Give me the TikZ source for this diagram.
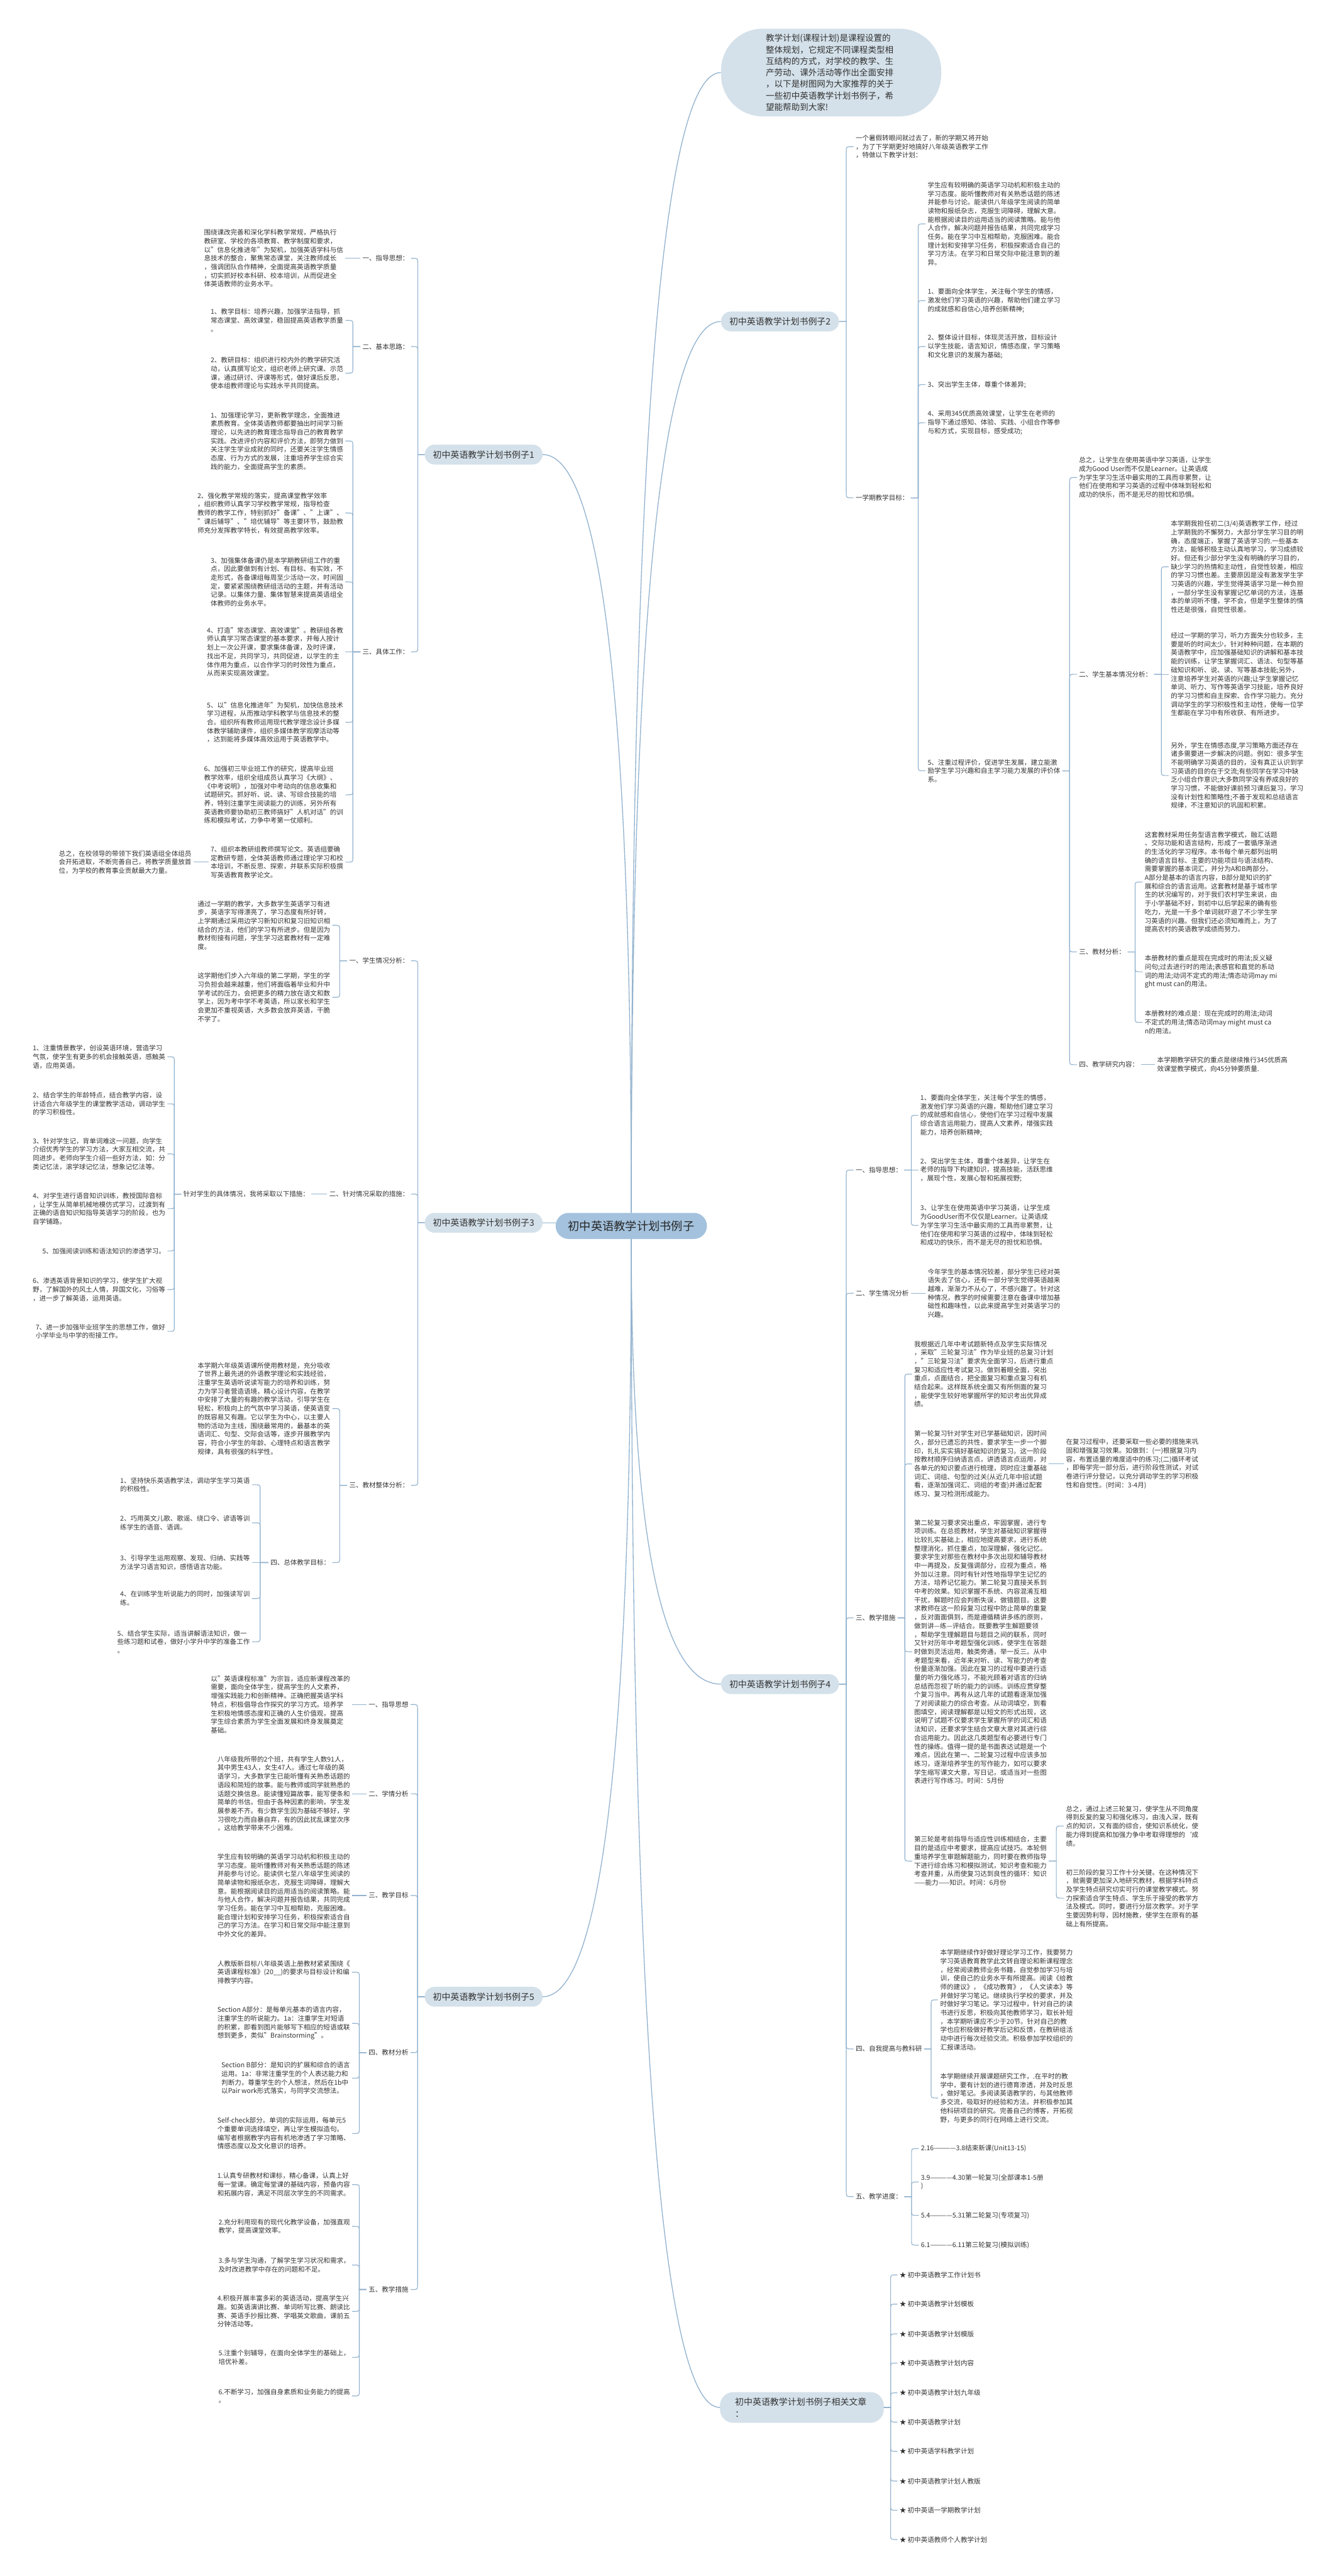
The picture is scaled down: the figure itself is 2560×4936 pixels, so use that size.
\documentclass[tikz,border=0pt]{standalone}
\usepackage{fontspec}
\setmainfont{Noto Sans CJK SC}
\usetikzlibrary{calc}

\definecolor{linecol}{HTML}{93B3CF}
\definecolor{pillcol}{HTML}{D4E1EA}
\definecolor{rootcol}{HTML}{A4C2DD}
\definecolor{txtcol}{HTML}{333333}

\newcommand\txtfont{\fontsize{12.7pt}{16.5pt}\selectfont}
\newcommand\pillfont{\fontsize{16.8pt}{22pt}\selectfont}
\newcommand\introfont{\fontsize{16.3pt}{22pt}\selectfont}
\newcommand\rootfont{\fontsize{22pt}{28pt}\selectfont}

\tikzset{
  txt/.style={font=\txtfont, align=left, inner sep=4pt, text=txtcol},
  rtxt/.style={txt, anchor=west},
  ltxt/.style={txt, anchor=east},
  pill/.style={fill=pillcol, rounded corners=19pt, minimum width=226pt,
    minimum height=38pt, font=\pillfont, inner sep=2pt, text=txtcol},
  link/.style={draw=linecol, line width=1.4pt},
  trunk/.style={draw=linecol, line width=1.6pt},
}

% bracket from a parent to its children (children on the right)
\newcommand\linkR[2]{\foreach \kid in {#2}{%
  \draw[link] let \p1=(#1.east), \p2=(\kid.west), \n1={(\x1+\x2)/2},
    \n2={\y2-\y1}, \n3={min(10,abs(\n2))*sign(\n2)} in
    (\p1) -- (\n1,\y1) -- (\n1,\y2-\n3) .. controls (\n1,\y2) .. ({\n1+abs(\n3)},\y2) -- (\p2);}}
% bracket from a parent to its children (children on the left)
\newcommand\linkL[2]{\foreach \kid in {#2}{%
  \draw[link] let \p1=(#1.west), \p2=(\kid.east), \n1={(\x1+\x2)/2},
    \n2={\y2-\y1}, \n3={min(10,abs(\n2))*sign(\n2)} in
    (\p1) -- (\n1,\y1) -- (\n1,\y2-\n3) .. controls (\n1,\y2) .. ({\n1-abs(\n3)},\y2) -- (\p2);}}
% curved trunk from the centre to a main branch
\newcommand\trunk[2]{%
  \draw[trunk] let \p1=(#1), \p2=(#2) in
    (\p1) .. controls ($(\p1)!0.667!(\x1,\y2)$) and ($(\p2)!0.667!(\x1,\y2)$) .. (\p2);}

\begin{document}
\begin{tikzpicture}[x=1pt, y=-1pt]

  \fill[white] (0,0) rectangle (2560,4936);
  \useasboundingbox (0,0) rectangle (2560,4936);

  % centre and intro
  \node[pill, fill=rootcol, minimum width=290pt, minimum height=50pt, rounded corners=25pt, font=\rootfont, text=black!85] (root) at (1210,2349) {初中英语教学计划书例子};
  \node[pill, minimum width=422pt, minimum height=168pt, rounded corners=80pt, font=\introfont, align=left, text width=250pt] (intro) at (1593,139)
    {教学计划(课程计划)是课程设置的\\整体规划，它规定不同课程类型相\\互结构的方式，对学校的教学、生\\产劳动、课外活动等作出全面安排\\，以下是树图网为大家推荐的关于\\一些初中英语教学计划书例子，希\\望能帮助到大家!};

  % main branches
  \node[pill] (ex1) at (927,871) {初中英语教学计划书例子1};
  \node[pill] (ex2) at (1495,616) {初中英语教学计划书例子2};
  \node[pill] (ex3) at (927,2343) {初中英语教学计划书例子3};
  \node[pill] (ex4) at (1495,3227) {初中英语教学计划书例子4};
  \node[pill] (ex5) at (927,3826) {初中英语教学计划书例子5};
  \node[pill, minimum width=314pt, minimum height=59pt, rounded corners=26pt, align=left, text width=256pt] (rel) at (1537,4613) {初中英语教学计划书例子相关文章\\：};

  \trunk{root.north}{intro.west}
  \trunk{root.north}{ex2.west}
  \trunk{root.north}{ex1.east}
  \trunk{root.south}{ex4.west}
  \trunk{root.south}{rel.west}
  \trunk{root.south}{ex5.east}
  \draw[trunk] (ex3.east) -- (ex3.east -| root.west);

  % Example 2
  \node[rtxt] (ex2-0) at (1636,281) {一个暑假转眼间就过去了，新的学期又将开始\\，为了下学期更好地搞好八年级英语教学工作\\，特做以下教学计划：};
  \node[rtxt] (ex2-1) at (1636,954) {一学期教学目标：};
  \node[rtxt] (ex2-1a) at (1774,429) {学生应有较明确的英语学习动机和积极主动的\\学习态度。能听懂教师对有关熟悉话题的陈述\\并能参与讨论。能读供八年级学生阅读的简单\\读物和报纸杂志，克服生词障碍，理解大意。\\能根据阅读目的运用适当的阅读策略。能与他\\人合作，解决问题并报告结果，共同完成学习\\任务。能在学习中互相帮助，克服困难。能合\\理计划和安排学习任务，积极探索适合自己的\\学习方法。在学习和日常交际中能注意到的差\\异。};
  \node[rtxt] (ex2-1b) at (1774,576) {1、要面向全体学生，关注每个学生的情感，\\激发他们学习英语的兴趣，帮助他们建立学习\\的成就感和自信心,培养创新精神;};
  \node[rtxt] (ex2-1c) at (1774,664) {2、整体设计目标，体现灵活开放，目标设计\\以学生技能，语言知识，情感态度，学习策略\\和文化意识的发展为基础;};
  \node[rtxt] (ex2-1d) at (1774,737) {3、突出学生主体，尊重个体差异;};
  \node[rtxt] (ex2-1e) at (1774,810) {4、采用345优质高效课堂，让学生在老师的\\指导下通过感知、体验、实践、小组合作等参\\与和方式，实现目标，感受成功;};
  \node[rtxt] (ex2-1f) at (1774,1477) {5、注重过程评价，促进学生发展，建立能激\\励学生学习兴趣和自主学习能力发展的评价体\\系。};
  \node[rtxt] (ex2-f1) at (2064,915) {总之，让学生在使用英语中学习英语，让学生\\成为Good User而不仅是Learner。让英语成\\为学生学习生活中最实用的工具而非累赘，让\\他们在使用和学习英语的过程中体味到轻松和\\成功的快乐，而不是无尽的担忧和恐惧。};
  \node[rtxt] (ex2-f2) at (2064,1292) {二、学生基本情况分析：};
  \node[rtxt] (ex2-f2a) at (2240,1086) {本学期我担任初二(3/4)英语教学工作，经过\\上学期我的不懈努力，大部分学生学习目的明\\确，态度端正，掌握了英语学习的.一些基本\\方法，能够积极主动认真地学习，学习成绩较\\好。但还有少部分学生没有明确的学习目的，\\缺少学习的热情和主动性，自觉性较差，相应\\的学习习惯也差。主要原因是没有激发学生学\\习英语的兴趣，学生觉得英语学习是一种负担\\，一部分学生没有掌握记忆单词的方法，连基\\本的单词听不懂，学不会，但是学生整体的惰\\性还是很强，自觉性很差。};
  \node[rtxt] (ex2-f2b) at (2240,1292) {经过一学期的学习，听力方面失分也较多，主\\要是听的时间太少。针对种种问题，在本期的\\英语教学中，应加强基础知识的讲解和基本技\\能的训练，让学生掌握词汇、语法、句型等基\\础知识和听、说、读、写等基本技能;另外，\\注意培养学生对英语的兴趣;让学生掌握记忆\\单词、听力、写作等英语学习技能，培养良好\\的学习习惯和自主探索、合作学习能力。充分\\调动学生的学习积极性和主动性，使每一位学\\生都能在学习中有所收获、有所进步。};
  \node[rtxt] (ex2-f2c) at (2240,1486) {另外，学生在情感态度,学习策略方面还存在\\诸多需要进一步解决的问题。例如：很多学生\\不能明确学习英语的目的，没有真正认识到学\\习英语的目的在于交流;有些同学在学习中缺\\乏小组合作意识;大多数同学没有养成良好的\\学习习惯，不能做好课前预习课后复习，学习\\没有计划性和策略性;不善于发现和总结语言\\规律，不注意知识的巩固和积累。};
  \node[rtxt] (ex2-f3) at (2064,1824) {三、教材分析：};
  \node[rtxt] (ex2-f3a) at (2190,1690) {这套教材采用任务型语言教学模式，融汇话题\\、交际功能和语言结构，形成了一套循序渐进\\的生活化的学习程序。本书每个单元都列出明\\确的语言目标、主要的功能项目与语法结构、\\需要掌握的基本词汇，并分为A和B两部分。\\A部分是基本的语言内容，B部分是知识的扩\\展和综合的语言运用。这套教材是基于城市学\\生的状况编写的，对于我们农村学生来说，由\\于小学基础不好，到初中以后学起来的确有些\\吃力，光是一千多个单词就吓退了不少学生学\\习英语的兴趣。但我们还必须知难而上，为了\\提高农村的英语教学成绩而努力。};
  \node[rtxt] (ex2-f3b) at (2190,1862) {本册教材的重点是现在完成时的用法;反义疑\\问句;过去进行时的用法;表感官和直觉的系动\\词的用法;动词不定式的用法;情态动词may mi\\ght must can的用法。};
  \node[rtxt] (ex2-f3c) at (2190,1959) {本册教材的难点是：现在完成时的用法;动词\\不定式的用法;情态动词may might must ca\\n的用法。};
  \node[rtxt] (ex2-f4) at (2064,2040) {四、教学研究内容：};
  \node[rtxt] (ex2-f4a) at (2214,2040) {本学期教学研究的重点是继续推行345优质高\\效课堂教学模式，向45分钟要质量.};

  \linkR{ex2}{ex2-0,ex2-1}
  \linkR{ex2-1}{ex2-1a,ex2-1b,ex2-1c,ex2-1d,ex2-1e,ex2-1f}
  \linkR{ex2-1f}{ex2-f1,ex2-f2,ex2-f3,ex2-f4}
  \linkR{ex2-f2}{ex2-f2a,ex2-f2b,ex2-f2c}
  \linkR{ex2-f3}{ex2-f3a,ex2-f3b,ex2-f3c}
  \linkR{ex2-f4}{ex2-f4a}

  % Example 4
  \node[rtxt] (ex4-1) at (1636,2242) {一、指导思想：};
  \node[rtxt] (ex4-1a) at (1760,2137) {1、要面向全体学生，关注每个学生的情感，\\激发他们学习英语的兴趣，帮助他们建立学习\\的成就感和自信心，使他们在学习过程中发展\\综合语言运用能力，提高人文素养，增强实践\\能力，培养创新精神;};
  \node[rtxt] (ex4-1b) at (1760,2242) {2、突出学生主体，尊重个体差异，让学生在\\老师的指导下构建知识，提高技能，活跃思维\\，展现个性，发展心智和拓展视野;};
  \node[rtxt] (ex4-1c) at (1760,2348) {3、让学生在使用英语中学习英语，让学生成\\为GoodUser而不仅仅是Learner。让英语成\\为学生学习生活中最实用的工具而非累赘，让\\他们在使用和学习英语的过程中，体味到轻松\\和成功的快乐，而不是无尽的担忧和恐惧。};
  \node[rtxt] (ex4-2) at (1636,2478) {二、学生情况分析};
  \node[rtxt] (ex4-2a) at (1774,2478) {今年学生的基本情况较差，部分学生已经对英\\语失去了信心，还有一部分学生觉得英语越来\\越难，渐渐力不从心了，不感兴趣了。针对这\\种情况，教学的时候需要注意在备课中增加基\\础性和趣味性，以此来提高学生对英语学习的\\兴趣。};
  \node[rtxt] (ex4-3) at (1636,3100) {三、教学措施};
  \node[rtxt] (ex4-3a) at (1748,2633) {我根据近几年中考试题新特点及学生实际情况\\，采取"三轮复习法"作为毕业班的总复习计划\\，"三轮复习法"要求先全面学习，后进行重点\\复习和适应性考试复习。做到着眼全面，突出\\重点，点面结合，把全面复习和重点复习有机\\结合起来。这样既系统全面又有所侧面的复习\\，能使学生较好地掌握所学的知识考出优异成\\绩。};
  \node[rtxt] (ex4-3b) at (1748,2805) {第一轮复习针对学生对已学基础知识，因时间\\久，部分已遗忘的共性，要求学生一步一个脚\\印，扎扎实实搞好基础知识的复习。这一阶段\\按教材顺序归纳语言点，讲透语言点运用，对\\各单元的知识要点进行梳理，同时应注重基础\\词汇、词组、句型的过关(从近几年中招试题\\看，逐渐加强词汇、词组的考查)并通过配套\\练习、复习检测形成能力。};
  \node[rtxt] (ex4-3b1) at (2039,2805) {在复习过程中，还要采取一些必要的措施来巩\\固和增强复习效果。如做到：(一)根据复习内\\容，布置适量的难度适中的练习;(二)循环考试\\，即每学完一部分后，进行阶段性测试，对试\\卷进行评分登记，以充分调动学生的学习积极\\性和自觉性。(时间：3-4月)};
  \node[rtxt] (ex4-3c) at (1748,3165) {第二轮复习要求突出重点，牢固掌握，进行专\\项训练。在总揽教材，学生对基础知识掌握得\\比较扎实基础上，相应地提高要求，进行系统\\整理消化，抓住重点，加深理解，强化记忆。\\要求学生对那些在教材中多次出现和辅导教材\\中一再提及，反复强调部分，应视为重点，格\\外加以注意。同时有针对性地指导学生记忆的\\方法，培养记忆能力。第二轮复习直接关系到\\中考的效果。知识掌握不系统、内容混淆互相\\干扰，解题时应会判断失误，做错题目。这要\\求教师在这一阶段复习过程中防止简单的重复\\，反对面面俱到，而是遵循精讲多练的原则，\\做到讲—练—评结合。既要教学生解题要领\\，帮助学生理解题目与题目之间的联系，同时\\又针对历年中考题型强化训练，使学生在答题\\时做到灵活运用，触类旁通，举一反三。从中\\考题型来看，近年来对听、读、写能力的考查\\份量逐渐加强。因此在复习的过程中要进行适\\量的听力强化练习，不能光顾着对语言的归纳\\总结而忽视了听的能力的训练。训练应贯穿整\\个复习当中。再有从这几年的试题看逐渐加强\\了对阅读能力的综合考查。从动词填空，到看\\图填空，阅读理解都是以短文的形式出现，这\\说明了试题不仅要求学生掌握所学的词汇和语\\法知识，还要求学生结合文章大意对其进行综\\合运用能力。因此这几类题型有必要进行专门\\性的操练。值得一提的是书面表达试题是一个\\难点，因此在第一、二轮复习过程中应该多加\\练习，逐渐培养学生的写作能力，如可以要求\\学生缩写课文大意，写日记，或适当对一些图\\表进行写作练习。时间：5月份};
  \node[rtxt] (ex4-3d) at (1748,3566) {第三轮是考前指导与适应性训练相结合，主要\\目的是适应中考要求，提高应试技巧。本轮侧\\重培养学生审题解题能力，同时要在教师指导\\下进行综合练习和模拟测试，知识考查和能力\\考查并重，从而使复习达到良性的循环：知识\\——能力——知识。时间：6月份};
  \node[rtxt] (ex4-3d1) at (2039,3499) {总之，通过上述三轮复习，使学生从不同角度\\得到反复的复习和强化练习，由浅入深，既有\\点的知识，又有面的综合，使知识系统化，使\\能力得到提高和加强力争中考取得理想的`成\\绩。};
  \node[rtxt] (ex4-3d2) at (2039,3637) {初三阶段的复习工作十分关键。在这种情况下\\，就需要更加深入地研究教材，根据学科特点\\及学生特点研究切实可行的课堂教学模式。努\\力探索适合学生特点、学生乐于接受的教学方\\法及模式。同时，要进行分层次教学。对于学\\生要因势利导，因材施教，使学生在原有的基\\础上有所提高。};
  \node[rtxt] (ex4-4) at (1636,3926) {四、自我提高与教科研};
  \node[rtxt] (ex4-4a) at (1798,3832) {本学期继续作好做好理论学习工作，我要努力\\学习英语教育教学此文转自理论和新课程理念\\，经常阅读教师业务书籍，自觉参加学习与培\\训，使自己的业务水平有所提高。阅读《给教\\师的建议》，《成功教育》，《人文读本》等\\并做好学习笔记。继续执行学校的要求，并及\\时做好学习笔记。学习过程中，针对自己的读\\书进行反思，积极向其他教师学习，取长补短\\，本学期听课应不少于20节。针对自己的教\\学也应积极做好教学后记和反馈，在教研组活\\动中进行每次经验交流。积极参加学校组织的\\汇报课活动。};
  \node[rtxt] (ex4-4b) at (1798,4020) {本学期继续开展课题研究工作，.在平时的教\\学中，要有计划的进行德育渗透，并及时反思\\，做好笔记。多阅读英语教学的，与其他教师\\多交流，吸取好的经验和方法。并积极参加其\\他科研项目的研究。完善自己的博客，开拓视\\野，与更多的同行在网络上进行交流。};
  \node[rtxt] (ex4-5) at (1636,4209) {五、教学进度：};
  \node[rtxt] (ex4-5a) at (1761,4117) {2.16————3.8结束新课(Unit13-15)};
  \node[rtxt] (ex4-5b) at (1761,4181) {3.9————4.30第一轮复习(全部课本1-5册\\)};
  \node[rtxt] (ex4-5c) at (1761,4245) {5.4————5.31第二轮复习(专项复习)};
  \node[rtxt] (ex4-5d) at (1761,4302) {6.1————6.11第三轮复习(模拟训练)};

  \linkR{ex4}{ex4-1,ex4-2,ex4-3,ex4-4,ex4-5}
  \linkR{ex4-1}{ex4-1a,ex4-1b,ex4-1c}
  \linkR{ex4-2}{ex4-2a}
  \linkR{ex4-3}{ex4-3a,ex4-3b,ex4-3c,ex4-3d}
  \linkR{ex4-3b}{ex4-3b1}
  \linkR{ex4-3d}{ex4-3d1,ex4-3d2}
  \linkR{ex4-4}{ex4-4a,ex4-4b}
  \linkR{ex4-5}{ex4-5a,ex4-5b,ex4-5c,ex4-5d}

  % related articles
  \node[rtxt] (rel-1) at (1720,4359) {★ 初中英语教学工作计划书};
  \node[rtxt] (rel-2) at (1720,4415) {★ 初中英语教学计划模板};
  \node[rtxt] (rel-3) at (1720,4472) {★ 初中英语教学计划模版};
  \node[rtxt] (rel-4) at (1720,4528) {★ 初中英语教学计划内容};
  \node[rtxt] (rel-5) at (1720,4585) {★ 初中英语教学计划九年级};
  \node[rtxt] (rel-6) at (1720,4641) {★ 初中英语教学计划};
  \node[rtxt] (rel-7) at (1720,4697) {★ 初中英语学科教学计划};
  \node[rtxt] (rel-8) at (1720,4754) {★ 初中英语教学计划人教版};
  \node[rtxt] (rel-9) at (1720,4810) {★ 初中英语一学期教学计划};
  \node[rtxt] (rel-10) at (1720,4866) {★ 初中英语教师个人教学计划};

  \linkR{rel}{rel-1,rel-2,rel-3,rel-4,rel-5,rel-6,rel-7,rel-8,rel-9,rel-10}

  % Example 1
  \node[ltxt] (ex1-1) at (788,495) {一、指导思想：};
  \node[ltxt] (ex1-1a) at (662,495) {围绕课改完善和深化学科教学常规，严格执行\\教研室、学校的各项教育、教学制度和要求，\\以"信息化推进年"为契机，加强英语学科与信\\息技术的整合，聚焦常态课堂，关注教师成长\\，强调团队合作精神，全面提高英语教学质量\\，切实抓好校本科研、校本培训，从而促进全\\体英语教师的业务水平。};
  \node[ltxt] (ex1-2) at (788,664) {二、基本思路：};
  \node[ltxt] (ex1-2a) at (662,614) {1、教学目标：培养兴趣，加强学法指导，抓\\常态课堂、高效课堂，稳固提高英语教学质量\\。};
  \node[ltxt] (ex1-2b) at (662,715) {2、教研目标：组织进行校内外的教学研究活\\动，认真撰写论文，组织老师上研究课、示范\\课，通过研讨、评课等形式，做好课后反思，\\使本组教师理论与实践水平共同提高。};
  \node[ltxt] (ex1-3) at (788,1249) {三、具体工作：};
  \node[ltxt] (ex1-3a) at (662,845) {1、加强理论学习，更新教学理念，全面推进\\素质教育。全体英语教师都要抽出时间学习新\\理论，以先进的教育理念指导自己的教育教学\\实践。改进评价内容和评价方法，即努力做到\\关注学生学业成就的同时，还要关注学生情感\\态度、行为方式的发展，注重培养学生综合实\\践的能力，全面提高学生的素质。};
  \node[ltxt] (ex1-3b) at (662,983) {2、强化教学常规的落实，提高课堂教学效率\\，组织教师认真学习学校教学常规，指导检查\\教师的教学工作，特别抓好"备课"、"上课"、\\"课后辅导"、"培优辅导"等主要环节，鼓励教\\师充分发挥教学特长，有效提高教学效率。};
  \node[ltxt] (ex1-3c) at (662,1115) {3、加强集体备课仍是本学期教研组工作的重\\点，因此要做到有计划、有目标、有实效，不\\走形式，各备课组每周至少活动一次，时间固\\定，要紧紧围绕教研组活动的主题，并有活动\\记录。以集体力量、集体智慧来提高英语组全\\体教师的业务水平。};
  \node[ltxt] (ex1-3d) at (662,1249) {4、打造"常态课堂、高效课堂"。教研组各教\\师认真学习常态课堂的基本要求，并每人按计\\划上一次公开课，要求集体备课，及时评课，\\找出不足，共同学习，共同促进，以学生的主\\体作用为重点，以合作学习的时效性为重点，\\从而来实现高效课堂。};
  \node[ltxt] (ex1-3e) at (662,1384) {5、以"信息化推进年"为契机，加快信息技术\\学习进程，从而推动学科教学与信息技术的整\\合。组织所有教师运用现代教学理念设计多媒\\体教学辅助课件，组织多媒体教学观摩活动等\\，达到能将多媒体高效运用于英语教学中。};
  \node[ltxt] (ex1-3f) at (662,1523) {6、加强初三毕业班工作的研究，提高毕业班\\教学效率，组织全组成员认真学习《大纲》、\\《中考说明》，加强对中考动向的信息收集和\\试题研究。抓好听、说、读、写综合技能的培\\养，特别注重学生阅读能力的训练，另外所有\\英语教师要协助初三教师搞好"人机对话"的训\\练和模拟考试，力争中考第一仗顺利。};
  \node[ltxt] (ex1-3g) at (662,1652) {7、组织本教研组教师撰写论文。英语组要确\\定教研专题，全体英语教师通过理论学习和校\\本培训，不断反思、探索，并联系实际积极撰\\写英语教育教学论文。};
  \node[ltxt] (ex1-3g1) at (371,1652) {总之，在校领导的带领下我们英语组全体组员\\会开拓进取，不断完善自己，将教学质量放首\\位，为学校的教育事业贡献最大力量。};

  \linkL{ex1}{ex1-1,ex1-2,ex1-3}
  \linkL{ex1-1}{ex1-1a}
  \linkL{ex1-2}{ex1-2a,ex1-2b}
  \linkL{ex1-3}{ex1-3a,ex1-3b,ex1-3c,ex1-3d,ex1-3e,ex1-3f,ex1-3g}
  \linkL{ex1-3g}{ex1-3g1}

  % Example 3
  \node[ltxt] (ex3-1) at (788,1841) {一、学生情况分析：};
  \node[ltxt] (ex3-1a) at (637,1773) {通过一学期的教学，大多数学生英语学习有进\\步，英语字写得漂亮了，学习态度有所好转，\\上学期通过采用边学习新知识和复习旧知识相\\结合的方法，他们的学习有所进步。但是因为\\教材衔接有问题，学生学习这套教材有一定难\\度。};
  \node[ltxt] (ex3-1b) at (637,1911) {这学期他们步入六年级的第二学期，学生的学\\习负担会越来越重，他们将面临着毕业和升中\\学考试的压力，会把更多的精力放在语文和数\\学上，因为考中学不考英语，所以家长和学生\\会更加不重视英语，大多数会放弃英语，干脆\\不学了。};
  \node[ltxt] (ex3-2) at (788,2288) {二、针对情况采取的措施：};
  \node[ltxt] (ex3-2a) at (597,2288) {针对学生的具体情况，我将采取以下措施：};
  \node[ltxt] (ex3-2a1) at (321,2025) {1、注重情景教学，创设英语环境，营造学习\\气氛，使学生有更多的机会接触英语，感触英\\语，应用英语。};
  \node[ltxt] (ex3-2a2) at (321,2115) {2、结合学生的年龄特点，结合教学内容，设\\计适合六年级学生的课堂教学活动，调动学生\\的学习积极性。};
  \node[ltxt] (ex3-2a3) at (321,2211) {3、针对学生记，背单词难这一问题，向学生\\介绍优秀学生的学习方法，大家互相交流，共\\同进步。老师向学生介绍一些好方法，如：分\\类记忆法，滚学球记忆法，想象记忆法等。};
  \node[ltxt] (ex3-2a4) at (321,2316) {4、对学生进行语音知识训练，教授国际音标\\，让学生从简单机械地模仿式学习，过渡到有\\正确的语音知识知指导英语学习的阶段，也为\\自学铺路。};
  \node[ltxt] (ex3-2a5) at (321,2397) {5、加强阅读训练和语法知识的渗透学习。};
  \node[ltxt] (ex3-2a6) at (321,2471) {6、渗透英语背景知识的学习，使学生扩大视\\野，了解国外的风土人情，异国文化，习俗等\\，进一步了解英语，运用英语。};
  \node[ltxt] (ex3-2a7) at (321,2551) {7、进一步加强毕业班学生的思想工作，做好\\小学毕业与中学的衔接工作。};
  \node[ltxt] (ex3-3) at (788,2846) {三、教材整体分析：};
  \node[ltxt] (ex3-3a) at (637,2699) {本学期六年级英语课所使用教材是，充分吸收\\了世界上最先进的外语教学理论和实践经验，\\注重学生英语听说读写能力的培养和训练，努\\力为学习者营造语境，精心设计内容，在教学\\中安排了大量的有趣的教学活动，引导学生在\\轻松，积极向上的气氛中学习英语，使英语变\\的既容易又有趣。它以学生为中心，以主要人\\物的活动为主线，围绕最常用的，最基本的英\\语词汇、句型、交际会话等，逐步开展教学内\\容，符合小学生的年龄、心理特点和语言教学\\规律，具有很强的科学性。};
  \node[ltxt] (ex3-4) at (637,2994) {四、总体教学目标：};
  \node[ltxt] (ex3-4a) at (483,2845) {1、坚持快乐英语教学法，调动学生学习英语\\的积极性。};
  \node[ltxt] (ex3-4b) at (483,2918) {2、巧用英文儿歌、歌谣、绕口令、谚语等训\\练学生的语音、语调。};
  \node[ltxt] (ex3-4c) at (483,2994) {3、引导学生运用观察、发现、归纳、实践等\\方法学习语言知识，感悟语言功能。};
  \node[ltxt] (ex3-4d) at (483,3063) {4、在训练学生听说能力的同时，加强读写训\\练。};
  \node[ltxt] (ex3-4e) at (483,3146) {5、结合学生实际，适当讲解语法知识，做一\\些练习题和试卷，做好小学升中学的准备工作\\。};

  \linkL{ex3}{ex3-1,ex3-2,ex3-3}
  \linkL{ex3-1}{ex3-1a,ex3-1b}
  \linkL{ex3-2}{ex3-2a}
  \linkL{ex3-2a}{ex3-2a1,ex3-2a2,ex3-2a3,ex3-2a4,ex3-2a5,ex3-2a6,ex3-2a7}
  \linkL{ex3-3}{ex3-3a,ex3-4}
  \linkL{ex3-4}{ex3-4a,ex3-4b,ex3-4c,ex3-4d,ex3-4e}

  % Example 5
  \node[ltxt] (ex5-1) at (787,3266) {一、指导思想};
  \node[ltxt] (ex5-1a) at (675,3266) {以"英语课程标准"为宗旨，适应新课程改革的\\需要，面向全体学生，提高学生的人文素养，\\增强实践能力和创新精神。正确把握英语学科\\特点，积极倡导合作探究的学习方式。培养学\\生积极地情感态度和正确的人生价值观，提高\\学生综合素质为学生全面发展和终身发展奠定\\基础。};
  \node[ltxt] (ex5-2) at (787,3437) {二、学情分析};
  \node[ltxt] (ex5-2a) at (675,3437) {八年级我所带的2个班，共有学生人数91人，\\其中男生43人，女生47人。通过七年级的英\\语学习，大多数学生已能听懂有关熟悉话题的\\语段和简短的故事。能与教师或同学就熟悉的\\话题交换信息。能读懂短篇故事，能写便条和\\简单的书信。但由于各种因素的影响，学生发\\展参差不齐。有少数学生因为基础不够好，学\\习很吃力而自暴自弃，有的因此扰乱课堂次序\\，这给教学带来不少困难。};
  \node[ltxt] (ex5-3) at (787,3632) {三、教学目标};
  \node[ltxt] (ex5-3a) at (675,3632) {学生应有较明确的英语学习动机和积极主动的\\学习态度。能听懂教师对有关熟悉话题的陈述\\并能参与讨论。能读供七至八年级学生阅读的\\简单读物和报纸杂志，克服生词障碍，理解大\\意。能根据阅读目的运用适当的阅读策略。能\\与他人合作，解决问题并报告结果，共同完成\\学习任务。能在学习中互相帮助，克服困难。\\能合理计划和安排学习任务，积极探索适合自\\己的学习方法。在学习和日常交际中能注意到\\中外文化的差异。};
  \node[ltxt] (ex5-4) at (787,3933) {四、教材分析};
  \node[ltxt] (ex5-4a) at (675,3779) {人教版新目标八年级英语上册教材紧紧围绕《\\英语课程标准》(20\_\_)的要求与目标设计和编\\排教学内容。};
  \node[ltxt] (ex5-4b) at (675,3877) {Section A部分：是每单元基本的语言内容，\\注重学生的听说能力。1a：注重学生对短语\\的积累，即看到图片能够写下相应的短语或联\\想到更多，类似"Brainstorming"。};
  \node[ltxt] (ex5-4c) at (675,3982) {Section B部分：是知识的扩展和综合的语言\\运用。1a：非常注重学生的个人表达能力和\\判断力，尊重学生的个人想法，然后在1b中\\以Pair work形式落实，与同学交流想法。};
  \node[ltxt] (ex5-4d) at (675,4088) {Self-check部分。单词的实际运用，每单元5\\个重要单词选择填空，再让学生模拟造句。\\编写者根据教学内容有机地渗透了学习策略、\\情感态度以及文化意识的培养。};
  \node[ltxt] (ex5-5) at (787,4387) {五、教学措施};
  \node[ltxt] (ex5-5a) at (675,4186) {1.认真专研教材和课标，精心备课，认真上好\\每一堂课。确定每堂课的基础内容，预备内容\\和拓展内容，满足不同层次学生的不同需求。};
  \node[ltxt] (ex5-5b) at (675,4266) {2.充分利用现有的现代化教学设备，加强直观\\教学，提高课堂效率。};
  \node[ltxt] (ex5-5c) at (675,4340) {3.多与学生沟通，了解学生学习状况和需求，\\及时改进教学中存在的问题和不足。};
  \node[ltxt] (ex5-5d) at (675,4429) {4.积极开展丰富多彩的英语活动，提高学生兴\\趣。如英语演讲比赛、单词听写比赛、朗读比\\赛、英语手抄报比赛、学唱英文歌曲，课前五\\分钟活动等。};
  \node[ltxt] (ex5-5e) at (675,4517) {5.注重个别辅导，在面向全体学生的基础上，\\培优补差。};
  \node[ltxt] (ex5-5f) at (675,4591) {6.不断学习，加强自身素质和业务能力的提高\\。};

  \linkL{ex5}{ex5-1,ex5-2,ex5-3,ex5-4,ex5-5}
  \linkL{ex5-1}{ex5-1a}
  \linkL{ex5-2}{ex5-2a}
  \linkL{ex5-3}{ex5-3a}
  \linkL{ex5-4}{ex5-4a,ex5-4b,ex5-4c,ex5-4d}
  \linkL{ex5-5}{ex5-5a,ex5-5b,ex5-5c,ex5-5d,ex5-5e,ex5-5f}

\end{tikzpicture}
\end{document}
